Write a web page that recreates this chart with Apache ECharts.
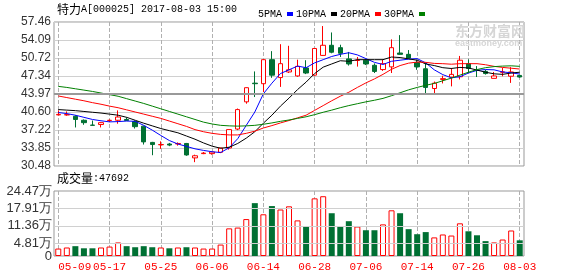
<!DOCTYPE html>
<html><head><meta charset="utf-8">
<script src="https://cdn.jsdelivr.net/npm/echarts@6/dist/echarts.min.js"></script>
<style>html,body{margin:0;padding:0;background:#fff}#c{width:578px;height:276px}</style>
</head><body><div id="c"></div>
<script>
const dates = ['05-09','05-10','05-11','05-12','05-15','05-16','05-17','05-18','05-19','05-22','05-23','05-24','05-25','05-26','05-31','06-01','06-02','06-05','06-06','06-07','06-08','06-09','06-12','06-13','06-14','06-15','06-16','06-19','06-26','06-27','06-28','06-29','06-30','07-03','07-04','07-05','07-06','07-07','07-10','07-11','07-12','07-13','07-14','07-17','07-18','07-19','07-24','07-25','07-26','07-27','07-28','07-31','08-01','08-02','08-03'];
const labelDates = ['05-09','05-17','05-25','06-06','06-14','06-28','07-06','07-14','07-26','08-03'];
const opens  = [40.05,40.05,39.8,39.05,38.15,38.25,39.0,39.05,39.2,38.8,37.95,34.9,34.45,34.6,34.6,34.7,32.0,32.8,32.8,33.05,33.85,37.4,42.5,46.0,45.9,50.4,47.05,48.1,47.35,48.85,47.5,51.2,53.1,52.65,50.55,50.25,50.3,49.35,48.55,49.05,51.65,51.4,49.85,48.7,45.0,46.7,47.15,47.2,49.65,48.45,48.2,46.9,48.05,47.3,47.45];
const closes = [40.15,40.1,39.2,38.6,38.1,38.6,39.05,39.66,39.0,37.85,35.0,34.5,34.5,34.4,34.7,32.55,32.4,32.9,33.1,33.85,37.3,41.05,45.15,45.9,50.4,47.5,49.65,48.5,49.15,47.9,52.5,53.1,51.8,51.6,49.6,50.3,49.6,48.2,49.65,52.65,51.4,50.7,49.05,45.2,46.0,46.85,47.65,50.3,48.75,48.4,47.8,47.35,48.1,48.1,47.15];
const lows   = [40.0,39.9,37.7,38.2,38.05,37.7,38.7,38.4,38.9,37.5,34.5,32.5,33.7,34.2,34.3,32.4,31.2,32.7,32.6,32.9,33.55,37.2,42.15,43.4,44.35,47.0,45.3,47.9,47.2,47.7,47.4,51.1,51.6,50.9,49.3,49.1,49.4,47.9,48.3,47.9,51.3,50.6,48.5,44.15,44.05,45.95,45.4,46.7,47.9,47.15,47.6,46.9,47.3,46.05,47.0];
const highs  = [40.9,40.7,40.0,39.2,39.0,38.7,39.2,40.9,39.6,39.0,38.0,35.0,35.1,34.8,34.9,34.8,32.6,33.1,33.2,33.9,37.3,41.25,45.2,48.2,50.5,52.0,53.3,53.0,50.4,50.3,52.5,56.7,55.5,53.2,51.85,50.9,50.5,49.7,50.4,54.2,55.0,52.2,50.4,49.8,46.3,47.4,48.85,51.1,50.45,49.2,48.5,48.1,48.9,49.0,47.6];
const volumes = [2.8,3.2,3.7,2.9,2.9,3.2,3.55,5.1,3.7,3.3,3.7,3.3,3.2,2.9,3.2,3.3,3.2,2.8,2.8,4.3,10.4,10.7,13.9,19.9,15.7,18.8,17.5,18.7,13.4,11.2,21.7,22.5,16.1,11.2,13.1,11.1,9.7,9.7,11.9,17.2,16.1,10.1,8.2,9.0,7.0,8.1,7.7,12.3,9.3,7.8,5.6,5.1,6.2,9.6,5.9];
const ma5  = [40.5,40.3,40.0,39.6,39.2,38.95,38.75,38.8,38.9,38.85,38.1,37.2,36.2,35.25,34.6,34.15,33.7,33.4,33.15,33.0,33.9,35.6,38.1,40.6,44.0,46.0,47.8,48.5,49.2,48.9,49.8,50.4,51.0,51.4,51.7,51.3,50.6,49.9,49.5,50.1,50.3,50.5,50.6,49.8,48.5,47.6,47.0,47.2,47.9,48.4,48.55,48.5,48.1,47.95,47.7];
const ma10 = [41.05,40.95,40.85,40.7,40.55,40.4,40.2,40.0,39.6,39.05,38.5,38.0,37.5,37.1,36.7,36.1,35.5,34.8,34.2,33.8,34.0,34.7,35.7,36.9,38.5,40.0,41.7,43.2,44.8,46.2,47.8,49.0,49.6,50.2,50.1,50.4,50.4,50.4,50.4,50.9,50.8,50.55,50.3,49.6,49.3,48.9,48.75,48.95,48.85,48.45,48.05,47.75,47.65,47.9,48.05];
const ma20 = [43.6,43.3,43.0,42.7,42.35,42.05,41.7,41.4,41.0,40.6,40.2,39.8,39.4,38.9,38.4,37.9,37.3,36.9,36.6,36.4,36.3,36.3,36.6,37.0,37.6,38.05,38.55,39.0,39.5,40.0,40.9,41.8,42.7,43.55,44.3,45.2,46.05,46.8,47.65,48.6,49.3,49.75,49.95,49.9,49.7,49.65,49.55,49.65,49.65,49.65,49.45,49.15,48.95,48.8,48.65];
const ma30 = [45.4,45.2,44.95,44.7,44.45,44.15,43.85,43.55,43.1,42.65,42.2,41.7,41.2,40.7,40.2,39.7,39.2,38.7,38.35,38.1,38.0,37.95,38.0,38.1,38.3,38.55,38.85,39.1,39.4,39.7,40.1,40.55,40.95,41.4,41.8,42.15,42.5,42.8,43.15,43.65,44.2,44.75,45.2,45.6,45.95,46.45,46.95,47.5,48.05,48.55,48.9,49.1,49.2,49.25,49.15];
const priceTicks = ['30.48','33.85','37.22','40.60','43.97','47.34','50.72','54.09','57.46'];
const volTickValues = [0, 4.81, 11.36, 17.91, 24.47];
const volTickLabels = ['0','4.81万','11.36万','17.91万','24.47万'];
const maNames = ['5PMA','10PMA','20PMA','30PMA'];
const titleCjk = '特力', titleRest = 'A[000025] 2017-08-03 15:00';
const volCjk = '成交量', volRest = ':47692';

const RED = '#ff0000', GREEN = '#007033';
const pMin = Number(priceTicks[0]), pMax = Number(priceTicks[priceTicks.length - 1]);
const pInt = (pMax - pMin) / (priceTicks.length - 1);
const candleData = dates.map((d, i) => [opens[i], closes[i], lows[i], highs[i]]);
const volData = volumes.map((v, i) => closes[i] >= opens[i]
  ? { value: v, itemStyle: { color: '#fff', borderColor: RED, borderWidth: 1 } }
  : { value: v, itemStyle: { color: GREEN } });
const labelStep = dates.indexOf(labelDates[1]) - dates.indexOf(labelDates[0]);
function vSplit() { return { show: true, interval: labelStep - 1, alignWithLabel: true, lineStyle: { color: '#b0b0b0', type: 'dashed', width: 1 } }; }

const chart = echarts.init(document.getElementById('c'));
const maColors = ['#0000ff', '#000000', '#ff0000', '#008000'];
const maData = [ma5, ma10, ma20, ma30];
const MONO = '"Liberation Mono", "DejaVu Sans Mono", monospace';
const SANS = '"Liberation Sans", Arial, sans-serif';
chart.setOption({
  animation: false,
  legend: {
    data: maNames, left: 253, top: 4, align: 'right', icon: 'rect',
    itemWidth: 6, itemHeight: 4, itemGap: 3, selectedMode: false,
    textStyle: { fontSize: 10, fontFamily: MONO, color: '#000' }
  },
  grid: [
    { left: 54, top: 22, width: 470, height: 144, show: true, borderColor: '#999', borderWidth: 1 },
    { left: 54, top: 191, width: 470, height: 65, show: true, borderColor: '#999', borderWidth: 1 }
  ],
  xAxis: [
    { type: 'category', gridIndex: 0, data: dates, boundaryGap: true, axisLine: { show: false }, axisTick: { show: false }, axisLabel: { show: false }, splitLine: vSplit() },
    { type: 'category', gridIndex: 1, data: dates, boundaryGap: true, axisLine: { show: false }, axisTick: { show: false },
      axisLabel: { interval: labelStep - 1, color: RED, fontSize: 11, fontFamily: MONO, margin: 6, alignMinLabel: 'left' }, splitLine: vSplit() }
  ],
  yAxis: [
    { type: 'value', gridIndex: 0, min: pMin, max: pMax, interval: pInt, axisLine: { show: false }, axisTick: { show: false },
      axisLabel: { fontSize: 12, fontFamily: SANS, color: '#333', margin: 3,
        formatter: v => priceTicks[Math.round((v - pMin) / pInt)] || '' },
      splitLine: { lineStyle: { color: '#d0d0d0', width: 1 } } },
    { type: 'value', gridIndex: 1, min: volTickValues[0], max: volTickValues[volTickValues.length - 1], axisLine: { show: false }, axisTick: { show: false },
      axisLabel: { show: false }, splitLine: { show: false } }
  ],
  series: [
    { type: 'candlestick', name: 'K', xAxisIndex: 0, yAxisIndex: 0, data: candleData, barWidth: 5,
      itemStyle: { color: '#fff', color0: GREEN, borderColor: RED, borderColor0: GREEN, borderWidth: 1 },
      markLine: { symbol: 'none', label: { show: false },
        data: [{ yAxis: Number(priceTicks[4]), lineStyle: { color: '#999', type: 'solid', width: 2 } }] } },
    ...maNames.map((n, k) => ({ type: 'line', name: n, xAxisIndex: 0, yAxisIndex: 0, data: maData[k], showSymbol: false, symbol: 'none',
      lineStyle: { color: maColors[k], width: 1 }, itemStyle: { color: maColors[k] }, z: 3 })),
    { type: 'bar', name: 'VOL', xAxisIndex: 1, yAxisIndex: 1, data: volData, barWidth: 6,
      markLine: { symbol: 'none', label: { show: false },
        data: volTickValues.slice(1, -1).map(v => ({ yAxis: v, lineStyle: { color: '#d0d0d0', type: 'solid', width: 1 } })) } }
  ]
});
// all text overlays in a single graphic option; volume tick labels use the axis's own scale
const volYs = volTickValues.map(v => chart.convertToPixel({ yAxisIndex: 1 }, v));
const graphics = [
  { type: 'text', left: 57, top: 3, style: { text: '{c|' + titleCjk + '}{a|' + titleRest + '}', fill: '#000',
    rich: { c: { fontSize: 12, fontFamily: '"Noto Sans CJK SC"', fill: '#000' }, a: { fontSize: 10, fontFamily: MONO, fill: '#000' } } } },
  { type: 'text', left: 57, top: 172, style: { text: '{c|' + volCjk + '}{a|' + volRest + '}', fill: '#000',
    rich: { c: { fontSize: 12, fontFamily: '"Noto Sans CJK SC"', fill: '#000' }, a: { fontSize: 10, fontFamily: MONO, fill: '#000' } } } },
  { type: 'text', left: 455, top: 24, style: { text: '东方财富网', fontSize: 14, fontWeight: 'bold', fontFamily: '"Noto Sans CJK SC"', fill: '#d6d6d6' } },
  { type: 'text', left: 455, top: 39, style: { text: 'eastmoney.com', fontSize: 9, fontWeight: 'bold', fontFamily: SANS, fill: '#d6d6d6' } }
].concat(volTickValues.map((v, i) => ({
  type: 'text', x: 52, y: volYs[i], z: 100,
  style: { text: String(volTickLabels[i]), align: 'right', verticalAlign: 'middle', fontSize: 13, fontFamily: SANS, fill: '#333' }
})));
chart.setOption({ graphic: graphics });
</script></body></html>
